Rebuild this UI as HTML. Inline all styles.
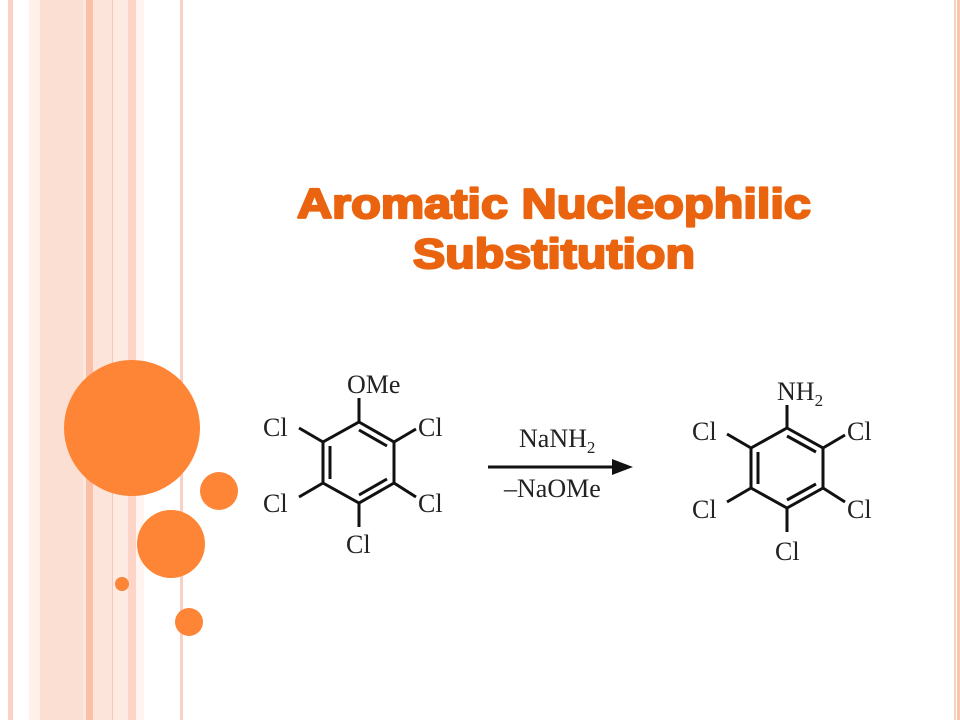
<!DOCTYPE html>
<html><head><meta charset="utf-8"><style>
html,body{margin:0;padding:0;width:960px;height:720px;overflow:hidden;background:#fff}
</style></head><body>
<svg width="960" height="720" xmlns="http://www.w3.org/2000/svg">
<rect width="960" height="720" fill="#fff"/>
<rect x="8" y="0" width="5" height="720" fill="#fdd0c4"/>
<rect x="29" y="0" width="11" height="720" fill="#fff0ea"/>
<rect x="40" y="0" width="43" height="720" fill="#fcdfd3"/>
<rect x="83" y="0" width="3" height="720" fill="#fde8df"/>
<rect x="86" y="0" width="7" height="720" fill="#fbbfa5"/>
<rect x="93" y="0" width="19" height="720" fill="#fde4da"/>
<rect x="112" y="0" width="1" height="720" fill="#f4c8b8"/>
<rect x="113" y="0" width="15" height="720" fill="#fdeae2"/>
<rect x="128" y="0" width="8" height="720" fill="#fdd4c6"/>
<rect x="136" y="0" width="8" height="720" fill="#fff4ef"/>
<rect x="180" y="0" width="3" height="720" fill="#fbd0c4"/>
<rect x="954" y="0" width="2" height="720" fill="#fcd0c0"/>
<rect x="957" y="0" width="3" height="720" fill="#fbc4ad"/>
<g fill="#fd8535">
<circle cx="132" cy="428" r="68"/>
<circle cx="219" cy="491" r="19"/>
<circle cx="171" cy="544" r="34"/>
<circle cx="122" cy="584" r="7"/>
<circle cx="189" cy="622" r="14"/>
</g>
<g font-family="Liberation Sans, Arial, sans-serif" font-weight="bold" font-size="42" fill="#ea6410" stroke="#ea6410" stroke-width="2.2" stroke-linejoin="round" text-anchor="middle">
<text x="554" y="218" textLength="514" lengthAdjust="spacingAndGlyphs">Aromatic Nucleophilic</text>
<text x="554" y="268" textLength="282" lengthAdjust="spacingAndGlyphs">Substitution</text>
</g>
<g stroke="#111" stroke-width="3" fill="none">
<polygon points="359,422 394,442 394,483 359,503 323,483 323,442"/>
<line x1="359" y1="430" x2="387" y2="446"/>
<line x1="387" y1="479" x2="359" y2="495"/>
<line x1="330" y1="446" x2="330" y2="479"/>
<line x1="359" y1="422" x2="359" y2="398"/>
<line x1="323" y1="442" x2="299" y2="428"/>
<line x1="394" y1="442" x2="416" y2="429"/>
<line x1="323" y1="483" x2="299" y2="497"/>
<line x1="394" y1="483" x2="416" y2="497"/>
<line x1="359" y1="503" x2="359" y2="527"/>
<polygon points="787,428 823,448 823,488 787,508 751,488 751,448"/>
<line x1="787" y1="436" x2="816" y2="452"/>
<line x1="816" y1="484" x2="787" y2="500"/>
<line x1="758" y1="452" x2="758" y2="484"/>
<line x1="787" y1="428" x2="787" y2="405"/>
<line x1="751" y1="448" x2="727" y2="434"/>
<line x1="823" y1="448" x2="845" y2="435"/>
<line x1="751" y1="488" x2="727" y2="502"/>
<line x1="823" y1="488" x2="845" y2="502"/>
<line x1="787" y1="508" x2="787" y2="532"/>
<line x1="488" y1="467" x2="615" y2="467"/>
</g>
<polygon points="612,459 633,467 612,475" fill="#111"/>
<g font-family="Liberation Serif, serif" font-size="26" fill="#222">
<text x="347" y="393">OMe</text>
<text x="263" y="436">Cl</text>
<text x="418" y="436">Cl</text>
<text x="263" y="512">Cl</text>
<text x="418" y="512">Cl</text>
<text x="346" y="553">Cl</text>
<text x="777" y="400">NH<tspan font-size="17" dy="6">2</tspan></text>
<text x="692" y="440">Cl</text>
<text x="847" y="440">Cl</text>
<text x="692" y="518">Cl</text>
<text x="847" y="518">Cl</text>
<text x="775" y="560">Cl</text>
<text x="519" y="447">NaNH<tspan font-size="17" dy="6">2</tspan></text>
<text x="504" y="497">–NaOMe</text>
</g>
</svg>
</body></html>
